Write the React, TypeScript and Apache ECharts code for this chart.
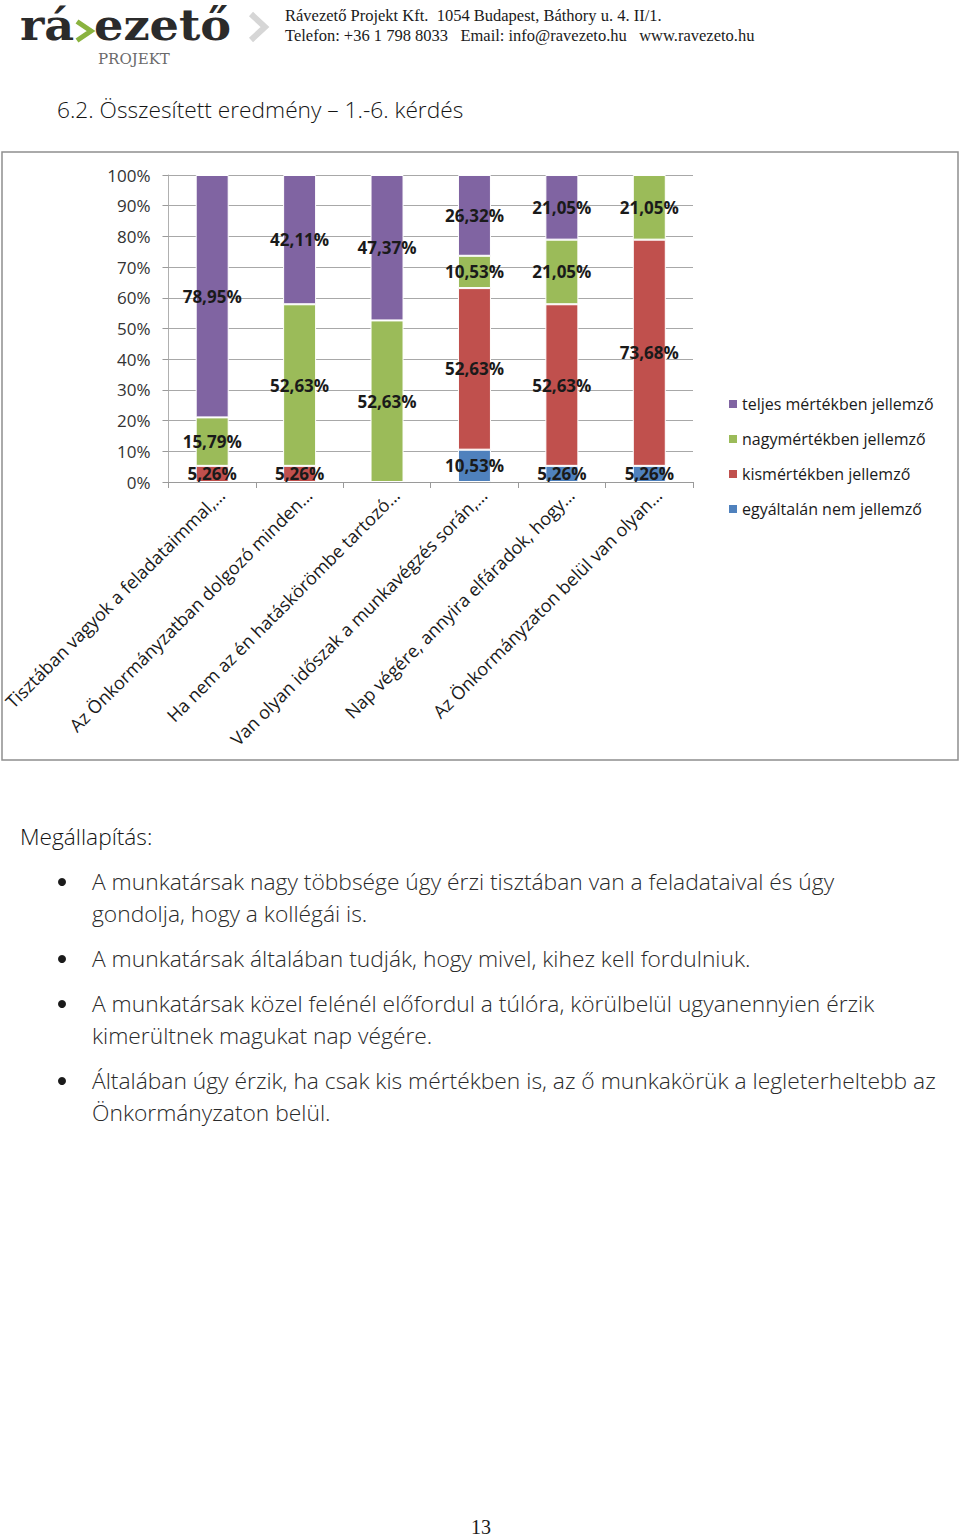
import React, { useEffect, useRef } from "react";
import * as echarts from "echarts";

const categories = [
  "Tisztában vagyok a feladataimmal,…",
  "Az Önkormányzatban dolgozó minden…",
  "Ha nem az én hatáskörömbe tartozó…",
  "Van olyan időszak a munkavégzés során,…",
  "Nap végére, annyira elfáradok, hogy…",
  "Az Önkormányzaton belül van olyan…",
];
const seriesNames = [
  "egyáltalán nem jellemző",
  "kismértékben jellemző",
  "nagymértékben jellemző",
  "teljes mértékben jellemző",
];
const egyaltalanNem = [0, 0, 0, 10.53, 5.26, 5.26];
const kismertekben = [5.26, 5.26, 0, 52.63, 52.63, 73.68];
const nagymertekben = [15.79, 52.63, 52.63, 10.53, 21.05, 21.05];
const teljesMertekben = [78.95, 42.11, 47.37, 26.32, 21.05, 0];
const seriesValues = [egyaltalanNem, kismertekben, nagymertekben, teljesMertekben];
const seriesColors = ["#4F81BD", "#C0504D", "#9BBB59", "#8064A2"];
const legendOrder = [
  "teljes mértékben jellemző",
  "nagymértékben jellemző",
  "kismértékben jellemző",
  "egyáltalán nem jellemző",
];

const headerLine1 = "Rávezető Projekt Kft.  1054 Budapest, Báthory u. 4. II/1.";
const headerLine2 = "Telefon: +36 1 798 8033   Email: info@ravezeto.hu   www.ravezeto.hu";
const titleText = "6.2. Összesített eredmény – 1.-6. kérdés";
const findingsHeading = "Megállapítás:";
const findings = [
  ["A munkatársak nagy többsége úgy érzi tisztában van a feladataival és úgy", "gondolja, hogy a kollégái is."],
  ["A munkatársak általában tudják, hogy mivel, kihez kell fordulniuk."],
  ["A munkatársak közel felénél előfordul a túlóra, körülbelül ugyanennyien érzik", "kimerültnek magukat nap végére."],
  ["Általában úgy érzik, ha csak kis mértékben is, az ő munkakörük a legleterheltebb az", "Önkormányzaton belül."],
];
const pageNumber = "13";

const SANS = "'Open Sans', 'Noto Sans', sans-serif";
const SERIF = "'Liberation Serif', 'DejaVu Serif', serif";

export default function App() {
  const ref = useRef<HTMLDivElement>(null);
  useEffect(() => {
    if (!ref.current) return;
    const chart = echarts.init(ref.current, null, { renderer: "svg" });

    const graphics: any[] = [];
    // chart frame
    graphics.push({
      type: "rect",
      shape: { x: 2, y: 152, width: 956, height: 608 },
      style: { fill: "none", stroke: "#8f8f8f", lineWidth: 1.5 },
      silent: true,
    });
    // logo
    graphics.push({
      type: "text",
      x: 20,
      y: 25.5,
      scaleX: 1.1,
      style: { text: "rá", font: "bold 42px 'DejaVu Serif', serif", fill: "#2b2b2b", verticalAlign: "middle" },
    });
    graphics.push({
      type: "polyline",
      shape: { points: [[77, 21.5], [91, 31], [77, 40.5]] },
      style: { stroke: "#8ab33f", lineWidth: 5, fill: "none" },
    });
    graphics.push({
      type: "text",
      x: 94,
      y: 25.5,
      scaleX: 1.1,
      style: { text: "ezető", font: "bold 42px 'DejaVu Serif', serif", fill: "#2b2b2b", verticalAlign: "middle" },
    });
    graphics.push({
      type: "text",
      x: 98,
      y: 59,
      style: { text: "PROJEKT", font: "15px 'DejaVu Serif', serif", fill: "#6a6a6a", verticalAlign: "middle" },
    });
    graphics.push({
      type: "polyline",
      shape: { points: [[251, 14], [265, 27], [251, 40]] },
      style: { stroke: "#d6d6d6", lineWidth: 6, fill: "none" },
    });
    graphics.push({
      type: "text",
      x: 285,
      y: 15,
      style: { text: headerLine1, font: `16.5px ${SERIF}`, fill: "#1a1a1a", verticalAlign: "middle" },
    });
    graphics.push({
      type: "text",
      x: 285,
      y: 35,
      style: { text: headerLine2, font: `16.5px ${SERIF}`, fill: "#1a1a1a", verticalAlign: "middle" },
    });
    graphics.push({
      type: "text",
      x: 57,
      y: 109,
      style: { text: titleText, font: `300 22.7px ${SANS}`, fill: "#141414", verticalAlign: "middle" },
    });
    graphics.push({
      type: "text",
      x: 20,
      y: 836,
      style: { text: findingsHeading, font: `300 22.7px ${SANS}`, fill: "#141414", verticalAlign: "middle" },
    });
    const lineYs = [[881, 913], [958], [1003, 1035], [1080, 1112]];
    findings.forEach((lines, i) => {
      graphics.push({
        type: "circle",
        shape: { cx: 62, cy: lineYs[i][0] + 1, r: 4 },
        style: { fill: "#1a1a1a" },
      });
      lines.forEach((ln, j) => {
        graphics.push({
          type: "text",
          x: 92,
          y: lineYs[i][j],
          style: { text: ln, font: `300 22.8px ${SANS}`, fill: "#2a2a2a", verticalAlign: "middle" },
        });
      });
    });
    graphics.push({
      type: "text",
      x: 481,
      y: 1527,
      style: { text: pageNumber, font: `20px ${SERIF}`, fill: "#1a1a1a", align: "center", verticalAlign: "middle" },
    });

    const fmt = (p: any) => {
      const v = p.value;
      if (v == null || v === 0) return "";
      return v.toFixed(2).replace(".", ",") + "%";
    };

    chart.setOption({
      animation: false,
      backgroundColor: "#ffffff",
      textStyle: { fontFamily: SANS },
      grid: { left: 167, right: 267, top: 175, bottom: 1538 - 482, containLabel: false },
      legend: {
        orient: "vertical",
        left: 727,
        top: 396,
        padding: 0,
        itemWidth: 10,
        itemHeight: 10,
        itemGap: 19,
        icon: "rect",
        data: legendOrder,
        textStyle: { fontSize: 16, color: "#1a1a1a", fontFamily: SANS, padding: [0, 0, 0, -1] },
      },
      xAxis: {
        type: "category",
        data: categories,
        axisLine: { show: true, lineStyle: { color: "#9a9a9a", width: 1 } },
        axisTick: { show: true, length: 6, lineStyle: { color: "#9a9a9a" } },
        axisLabel: {
          interval: 0,
          rotate: 45,
          margin: 19,
          fontSize: 18,
          color: "#1a1a1a",
          fontFamily: SANS,
          padding: [0, -13, 0, 0],
        },
      },
      yAxis: {
        type: "value",
        min: 0,
        max: 100,
        interval: 10,
        axisLine: { show: true, lineStyle: { color: "#b0b0b0" } },
        axisTick: { show: true, length: 6, lineStyle: { color: "#9a9a9a" } },
        splitLine: { show: true, lineStyle: { color: "#a8a8a8", width: 1 } },
        axisLabel: {
          formatter: "{value}%",
          fontSize: 17,
          color: "#333333",
          margin: 18,
          fontFamily: SANS,
        },
      },
      series: seriesNames.map((name, i) => ({
        name,
        type: "bar",
        stack: "total",
        barWidth: 33,
        data: seriesValues[i].map((v) => (v === 0 ? null : v)),
        itemStyle: { color: seriesColors[i], borderColor: "#ffffff", borderWidth: 1 },
        label: {
          show: true,
          position: "inside",
          formatter: fmt,
          fontSize: 17,
          fontWeight: "bold",
          color: "#1a1a1a",
          fontFamily: SANS,
        },
      })),
      graphic: graphics,
    });
    return () => chart.dispose();
  }, []);
  return (
    <div
      ref={ref}
      style={{ position: "absolute", left: 0, top: 0, width: 960, height: 1538, background: "#fff" }}
    />
  );
}
